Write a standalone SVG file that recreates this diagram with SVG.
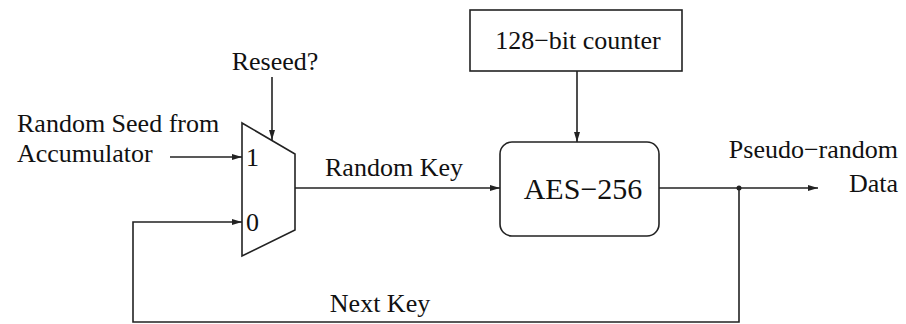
<svg xmlns="http://www.w3.org/2000/svg" width="906" height="324" viewBox="0 0 906 324">
  <style>
    .ln { fill: none; stroke: #222; stroke-width: 1.6; }
    .box { fill: #fff; stroke: #222; stroke-width: 1.6; }
    .t { font-family: "Liberation Serif", "Times New Roman", serif; font-size: 26px; fill: #111; }
    .big { font-size: 30px; }
  </style>
  <defs>
    <marker id="arr" viewBox="0 0 10 6" refX="10" refY="3" markerWidth="10" markerHeight="6" markerUnits="userSpaceOnUse" orient="auto">
      <path d="M0,0 L10,3 L0,6 Z" fill="#222"/>
    </marker>
  </defs>

  <rect width="906" height="324" fill="#fff"/>

  <!-- connectors -->
  <g id="connectors">
    <path class="ln" d="M272,77 L272,140" marker-end="url(#arr)"/>
    <path class="ln" d="M170,157 L242,157" marker-end="url(#arr)"/>
    <path class="ln" d="M739,188 L739,322 L133,322 L133,222 L242,222" marker-end="url(#arr)"/>
    <path class="ln" d="M295,188 L500,188" marker-end="url(#arr)"/>
    <path class="ln" d="M577,71 L577,142" marker-end="url(#arr)"/>
    <path class="ln" d="M659,188 L818,188" marker-end="url(#arr)"/>
    <circle cx="739" cy="188" r="2.5" fill="#222"/>
  </g>

  <!-- multiplexer -->
  <g id="mux">
    <path class="box" d="M242,123 L295,154 L295,230 L242,256 Z"/>
    <text class="t" x="246" y="166">1</text>
    <text class="t" x="246" y="231">0</text>
  </g>

  <!-- counter -->
  <g id="counter">
    <rect class="box" x="470" y="10" width="212" height="61"/>
    <text class="t" x="578" y="49" text-anchor="middle">128−bit counter</text>
  </g>

  <!-- cipher -->
  <g id="aes">
    <rect class="box" x="500" y="142" width="159" height="94" rx="12" ry="12"/>
    <text class="t big" x="583" y="199" text-anchor="middle">AES−256</text>
  </g>

  <!-- labels -->
  <g id="labels">
    <text class="t" x="275" y="70" text-anchor="middle">Reseed?</text>
    <text class="t" x="17" y="132">Random Seed from</text>
    <text class="t" x="17" y="162">Accumulator</text>
    <text class="t" x="394" y="176" text-anchor="middle">Random Key</text>
    <text class="t" x="898" y="158" text-anchor="end">Pseudo−random</text>
    <text class="t" x="898" y="192" text-anchor="end">Data</text>
    <text class="t" x="380" y="312" text-anchor="middle">Next Key</text>
  </g>
</svg>
